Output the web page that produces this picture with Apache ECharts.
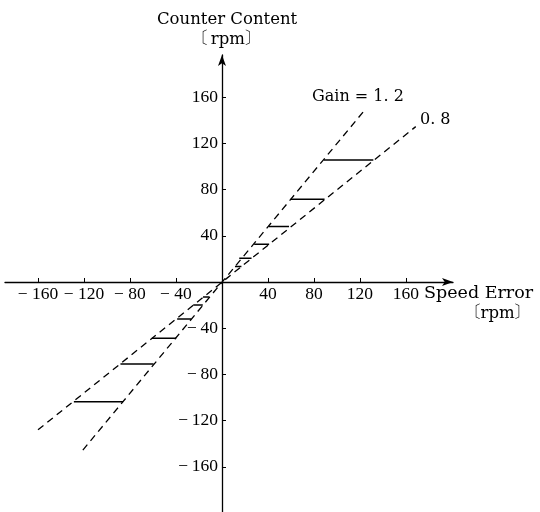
<!DOCTYPE html>
<html>
<head>
<meta charset="utf-8">
<script src="https://cdn.jsdelivr.net/npm/echarts@6/dist/echarts.min.js"></script>
<style>
html, body { margin: 0; padding: 0; background: #fff; }
#chart { width: 540px; height: 512px; }
</style>
</head>
<body>
<div id="chart"></div>
<script>
// tick labels
var xTicks = [-160, -120, -80, -40, 40, 80, 120, 160];
var yTicks = [-160, -120, -80, -40, 40, 80, 120, 160];

// dashed gain lines (end points)
var gain12X = [-121, 123];
var gain12Y = [-145.5, 147.5];
var gain08X = [-160, 168.5];
var gain08Y = [-128, 134.5];

// solid horizontal steps between the two gain lines
var stepY  = [13.5, 20.5, 32.6, 48, 71.6, 105.6, -13, -20, -32, -48.8, -71, -103.6];
var stepX1 = [11.3, 15, 28, 40.7, 59.7, 88.6, -16.5, -25, -39, -61, -88.3, -128.8];
var stepX2 = [16.9, 25.7, 41, 58.3, 89.2, 131.6, -11, -16.7, -26.8, -39.8, -59.5, -86];

var xMin = -188.7, xMax = 200.9;
var yMin = -199.1, yMax = 196.5;

var serif = '"DejaVu Serif", "Noto Serif CJK JP", "Noto Sans CJK JP", serif';
var numFont = '"Liberation Serif", serif';

function pair(xs, ys) {
	return xs.map(function (x, i) { return [x, ys[i]]; });
}

var series = [
	{
		type: 'line', data: pair(gain12X, gain12Y), symbol: 'none', silent: true,
		lineStyle: { color: '#000', width: 1.3, type: [7, 5] }
	},
	{
		type: 'line', data: pair(gain08X, gain08Y), symbol: 'none', silent: true,
		lineStyle: { color: '#000', width: 1.3, type: [7, 5] }
	}
];
stepY.forEach(function (y, i) {
	series.push({
		type: 'line', data: [[stepX1[i], y], [stepX2[i], y]], symbol: 'none', silent: true,
		lineStyle: { color: '#000', width: 1.5 }
	});
});

// grid box in pixels; axes are shifted onto the zero lines with offset
var gLeft = 5, gTop = 55, gW = 448, gH = 457;
var xZeroPx = gW * (0 - xMin) / (xMax - xMin);          // from grid left
var yZeroPx = gH * (0 - yMin) / (yMax - yMin);          // from grid bottom

var chart = echarts.init(document.getElementById('chart'));
var option = {
	animation: false,
	backgroundColor: '#fff',
	grid: { left: gLeft, top: gTop, width: gW, height: gH, outerBoundsMode: 'none', containLabel: false },
	xAxis: {
		type: 'value',
		position: 'bottom',
		offset: -yZeroPx,
		min: xMin,
		max: xMax,
		axisLine: {
			onZero: false,
			symbol: ['none', 'arrow'],
			symbolSize: [6, 11],
			lineStyle: { color: '#000', width: 1.3 }
		},
		axisTick: { show: true, inside: true, length: 4, customValues: xTicks, lineStyle: { color: '#000', width: 1 } },
		axisLabel: {
			customValues: xTicks,
			margin: 3,
			color: '#000',
			fontFamily: numFont,
			fontSize: 17.5,
			formatter: function (v) { return v < 0 ? '\u2212 ' + Math.abs(v) : String(v); }
		},
		splitLine: { show: false }
	},
	yAxis: {
		type: 'value',
		position: 'left',
		offset: -xZeroPx,
		min: yMin,
		max: yMax,
		axisLine: {
			onZero: false,
			symbol: ['none', 'arrow'],
			symbolSize: [6, 11],
			lineStyle: { color: '#000', width: 1.3 }
		},
		axisTick: { show: true, inside: true, length: 4, customValues: yTicks, lineStyle: { color: '#000', width: 1 } },
		axisLabel: {
			customValues: yTicks,
			margin: 4,
			color: '#000',
			fontFamily: numFont,
			fontSize: 17.5,
			formatter: function (v) { return v < 0 ? '\u2212\u2009' + Math.abs(v) : String(v); }
		},
		splitLine: { show: false }
	},
	graphic: [
		{ type: 'text', left: 157, top: 11, style: { text: 'Counter Content', font: '16.5px ' + serif, fill: '#000' } },
		{ type: 'text', left: 191, top: 31, style: { text: '\u3014\u2009rpm\u3015', font: '16.5px ' + serif, fill: '#000' } },
		{ type: 'text', left: 424, top: 285, style: { text: 'Speed Error', font: '17.5px ' + serif, fill: '#000' } },
		{ type: 'text', left: 464, top: 305, style: { text: '\u3014rpm\u3015', font: '16.5px ' + serif, fill: '#000' } },
		{ type: 'text', left: 312, top: 89, style: { text: 'Gain = 1. 2', font: '16px ' + serif, fill: '#000' } },
		{ type: 'text', left: 420, top: 112, style: { text: '0. 8', font: '16px ' + serif, fill: '#000' } }
	],
	series: series
};
chart.setOption(option);
window.addEventListener('resize', function () { chart.resize(); });
</script>
</body>
</html>
